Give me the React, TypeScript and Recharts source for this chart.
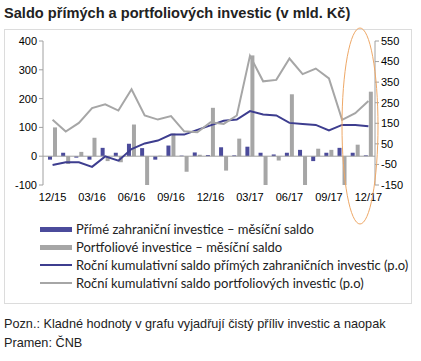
import { ComposedChart, Bar, Line, XAxis, YAxis, ReferenceLine } from 'recharts';

const months = [
  '12/15', '01/16', '02/16', '03/16', '04/16', '05/16', '06/16', '07/16', '08/16', '09/16', '10/16', '11/16',
  '12/16', '01/17', '02/17', '03/17', '04/17', '05/17', '06/17', '07/17', '08/17', '09/17', '10/17', '11/17', '12/17',
];
const fdiMonthly = [-12, 12, -5, -12, 29, 12, 43, 28, -12, 37, 2, 13, 4, 31, 3, 33, 12, 6, 12, 22, -17, 12, 29, 12, 3];
const piMonthly = [100, -27, 15, 64, -17, -21, 110, -100, 2, 79, -54, 5, 168, -50, 61, 350, -100, -15, 215, -100, 26, 22, -100, 40, 224];
const fdiCumulative = [-53, -40, -40, -62, -11, -32, 25, 52, 66, 95, 95, 118, 140, 162, 168, 209, 193, 188, 152, 147, 142, 115, 142, 142, 136];
const piCumulative = [167, 110, 152, 224, 242, 212, 315, 188, 168, 185, 111, 106, 155, 147, 188, 478, 354, 361, 465, 389, 416, 368, 167, 199, 258];

const leftTicks = [-100, 0, 100, 200, 300, 400];
const rightTicks = [-150, -50, 50, 150, 250, 350, 450, 550];

const legendItems = [
  { label: 'Přímé zahraniční investice – měsíční saldo', color: '#4b4b9b', thick: true },
  { label: 'Portfoliové investice – měsíční saldo', color: '#a6a6a6', thick: true },
  { label: 'Roční kumulativní saldo přímých zahraničních investic (p.o)', color: '#3d3d8f', thick: false },
  { label: 'Roční kumulativní saldo portfoliových investic (p.o)', color: '#a6a6a6', thick: false },
];

const data = months.map((m, i) => ({
  month: m,
  fdi: fdiMonthly[i],
  pi: piMonthly[i],
  fdiCum: fdiCumulative[i],
  piCum: piCumulative[i],
}));

const tickStyle = { fill: '#000', fontSize: 11, fontFamily: 'Liberation Sans, Arial, sans-serif' };

export default function App() {
  return (
    <div style={{ position: 'absolute', left: 0, top: 0, width: 421, height: 361, background: '#fff', fontFamily: 'Liberation Sans, Arial, sans-serif' }}>
      <div style={{ position: 'absolute', left: 4, top: 5, fontSize: 14.6, fontWeight: 'bold', color: '#222' }}>
        Saldo přímých a portfoliových investic (v mld. Kč)
      </div>
      <div style={{ position: 'absolute', left: 4, top: 29, width: 406, height: 273, border: '1px solid #dcdcdc' }} />
      <div style={{ position: 'absolute', left: 0, top: 0 }}>
        <ComposedChart width={421} height={215} data={data} margin={{ top: 41, right: 0, bottom: 0, left: 0 }} barSize={4} barGap={1}>
          <XAxis dataKey="month" interval={2} axisLine={false} tickLine={false} tick={tickStyle} height={30} padding={{ left: 3, right: 0 }} />
          <YAxis
            yAxisId="left"
            domain={[-100, 400]}
            ticks={leftTicks}
            width={43}
            allowDataOverflow
            axisLine={{ stroke: '#a0a0a0' }}
            tickLine={{ stroke: '#a0a0a0' }}
            tickSize={4}
            tick={tickStyle}
          />
          <YAxis
            yAxisId="right"
            orientation="right"
            domain={[-150, 550]}
            ticks={rightTicks}
            width={46}
            axisLine={{ stroke: '#a0a0a0' }}
            tickLine={{ stroke: '#a0a0a0' }}
            tickSize={4}
            tick={tickStyle}
          />
          <ReferenceLine yAxisId="left" y={0} stroke="#a0a0a0" />
          <Bar yAxisId="left" dataKey="fdi" fill="#4b4b9b" isAnimationActive={false} />
          <Bar yAxisId="left" dataKey="pi" fill="#a6a6a6" isAnimationActive={false} />
          <Line yAxisId="right" dataKey="fdiCum" stroke="#3d3d8f" strokeWidth={2} dot={false} isAnimationActive={false} />
          <Line yAxisId="right" dataKey="piCum" stroke="#a6a6a6" strokeWidth={2} dot={false} isAnimationActive={false} />
        </ComposedChart>
      </div>
      <div style={{ position: 'absolute', left: 40, top: 220 }}>
        {legendItems.map((it) => (
          <div key={it.label} style={{ display: 'flex', alignItems: 'center', height: 18, fontSize: 13, color: '#222', fontFamily: 'Liberation Sans Narrow, Lato, sans-serif' }}>
            <div style={{ width: 32, height: it.thick ? 5 : 2, background: it.color, marginRight: 4 }} />
            <span>{it.label}</span>
          </div>
        ))}
      </div>
      <div style={{ position: 'absolute', left: 4, top: 317, fontSize: 12.7, color: '#222' }}>
        Pozn.: Kladné hodnoty v grafu vyjadřují čistý příliv investic a naopak
      </div>
      <div style={{ position: 'absolute', left: 4, top: 336, fontSize: 12.7, color: '#222' }}>Pramen: ČNB</div>
      <svg width={421} height={361} style={{ position: 'absolute', left: 0, top: 0, pointerEvents: 'none' }}>
        <ellipse cx={360} cy={126} rx={18} ry={98} fill="none" stroke="#eea867" strokeWidth={1} />
      </svg>
    </div>
  );
}
